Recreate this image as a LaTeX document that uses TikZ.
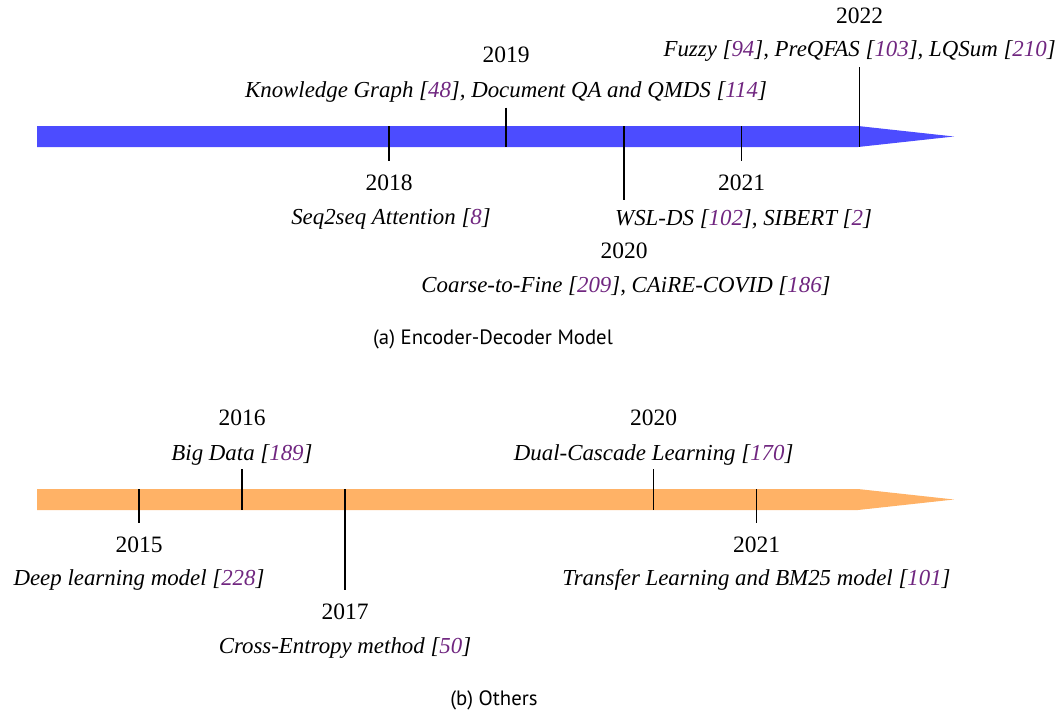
\documentclass[tikz,border=0pt]{standalone}
\usepackage{fontspec}
\setmainfont{Liberation Serif}
\newfontfamily\capfont{PT Sans}
\definecolor{citepurple}{RGB}{112,38,128}
\newcommand{\rf}[1]{[\textcolor{citepurple}{#1}]}
\tikzset{
  year/.style={inner sep=0pt, font=\fontsize{9.4}{11}\selectfont},
  work/.style={inner sep=0pt, font=\fontsize{9.15}{11}\selectfont\itshape},
  tickline/.style={line width=0.45pt, black},
  subcap/.style={inner sep=0pt, font=\capfont\fontsize{8.3}{10}\selectfont}
}
\begin{document}
\begin{tikzpicture}[x=0.4pt,y=-0.4pt]
\useasboundingbox (0,0) rectangle (1059,713);

% (a) Encoder-Decoder Model
\fill[blue!70] (37,126) -- (858,126) -- (954,136.5) -- (858,147) -- (37,147) -- cycle;
\foreach \yr/\x/\e/\yy/\yt/\txt in {
  2018/389/161/182.5/219/{Seq2seq Attention \rf{8}},
  2020/624/200/251/286/{Coarse-to-Fine \rf{209}, CAiRE-COVID \rf{186}},
  2021/741.6/161/182.5/219/{WSL-DS \rf{102}, SIBERT \rf{2}}} {
  \draw[tickline] (\x,126) -- (\x,\e);
  \node[year] (ya\yr) at (\x,\yy) {\yr};
  \node[work] (wa\yr) at (\x+2,\yt) {\txt};
}
\foreach \yr/\x/\e/\yy/\yt/\txt in {
  2019/506/107.5/55/92/{Knowledge Graph \rf{48}, Document QA and QMDS \rf{114}},
  2022/859.6/67/16/51/{Fuzzy \rf{94}, PreQFAS \rf{103}, LQSum \rf{210}}} {
  \draw[tickline] (\x,\e) -- (\x,147);
  \node[year] (ya\yr) at (\x,\yy) {\yr};
  \node[work] (wa\yr) at (\x,\yt) {\txt};
}
\node[subcap] (capa) at (493,339) {(a) Encoder-Decoder Model};

% (b) Others
\fill[orange!60] (37,489) -- (858,489) -- (954,499.5) -- (858,510) -- (37,510) -- cycle;
\foreach \yr/\x/\e/\yy/\yt/\txt in {
  2015/139/522.6/544.6/579.7/{Deep learning model \rf{228}},
  2017/345/590/612/648/{Cross-Entropy method \rf{50}},
  2021/756.5/522.6/544.6/579.7/{Transfer Learning and BM25 model \rf{101}}} {
  \draw[tickline] (\x,489) -- (\x,\e);
  \node[year] (yb\yr) at (\x,\yy) {\yr};
  \node[work] (wb\yr) at (\x,\yt) {\txt};
}
\foreach \yr/\x/\e/\yy/\yt/\txt in {
  2016/242/469/417.5/454.7/{Big Data \rf{189}},
  2020/653.7/469/417.5/454.7/{Dual-Cascade Learning \rf{170}}} {
  \draw[tickline] (\x,\e) -- (\x,510);
  \node[year] (yb\yr) at (\x,\yy) {\yr};
  \node[work] (wb\yr) at (\x,\yt) {\txt};
}
\node[subcap] (capb) at (494,700) {(b) Others};
\end{tikzpicture}
\end{document}
